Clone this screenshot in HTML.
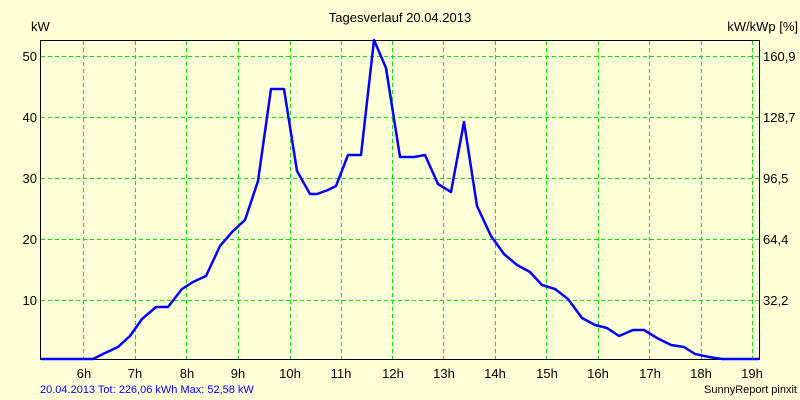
<!DOCTYPE html>
<html><head><style>
body{margin:0;background:#ffffd8;}
svg{display:block;font-family:"Liberation Sans",sans-serif;}
</style></head><body>
<svg width="800" height="400" xmlns="http://www.w3.org/2000/svg">
<rect width="800" height="400" fill="#ffffd8"/>
<g stroke="#00e000" stroke-width="1" stroke-dasharray="4,3">
<line x1="83.5" y1="41" x2="83.5" y2="359"/>
<line x1="135.5" y1="41" x2="135.5" y2="359"/>
<line x1="186.5" y1="41" x2="186.5" y2="359"/>
<line x1="238.5" y1="41" x2="238.5" y2="359"/>
<line x1="290.5" y1="41" x2="290.5" y2="359"/>
<line x1="341.5" y1="41" x2="341.5" y2="359"/>
<line x1="392.5" y1="41" x2="392.5" y2="359"/>
<line x1="443.5" y1="41" x2="443.5" y2="359"/>
<line x1="495.5" y1="41" x2="495.5" y2="359"/>
<line x1="546.5" y1="41" x2="546.5" y2="359"/>
<line x1="598.5" y1="41" x2="598.5" y2="359"/>
<line x1="649.5" y1="41" x2="649.5" y2="359"/>
<line x1="701.5" y1="41" x2="701.5" y2="359"/>
<line x1="752.5" y1="41" x2="752.5" y2="359"/>
<line x1="41" y1="56.5" x2="759" y2="56.5"/>
<line x1="41" y1="117.5" x2="759" y2="117.5"/>
<line x1="41" y1="178.5" x2="759" y2="178.5"/>
<line x1="41" y1="239.5" x2="759" y2="239.5"/>
<line x1="41" y1="300.5" x2="759" y2="300.5"/>
</g>
<rect x="40.5" y="40.5" width="719" height="319" fill="none" stroke="#000" stroke-width="1"/>
<polyline fill="none" stroke="#0000ff" stroke-width="2.5" stroke-linejoin="round" points="41,359 93,359 103,354 118,347 130,336 142,319 156,307 168,307 182,289 193,282 206,276 220,246 233,231 245,220 258,181 271,89 284,89 297,171 310,194 317,194 328,190 336,186 348,155 361,155 374,40 386,68 400,157 414,157 425,155 438,184 451,192 464,122 477,206 491,236 504,254 517,265 530,272 542,285 555,289 568,299 582,318 595,325 607,328 619,336 633,330 644,330 657,338 671,345 684,347 695,354 709,357 722,359 759,359"/>
<g font-size="13" fill="#000">
<text x="400" y="22" text-anchor="middle">Tagesverlauf 20.04.2013</text>
<text x="31" y="31">kW</text>
<text x="798" y="31" text-anchor="end">kW/kWp [%]</text>
<g text-anchor="end">
<text x="37" y="61">50</text><text x="37" y="122">40</text><text x="37" y="183">30</text><text x="37" y="244">20</text><text x="37" y="305">10</text>
</g>
<text x="763" y="61">160,9</text><text x="763" y="122">128,7</text><text x="763" y="183">96,5</text><text x="763" y="244">64,4</text><text x="763" y="305">32,2</text>
<g text-anchor="middle">
<text x="84" y="378">6h</text><text x="135" y="378">7h</text><text x="187" y="378">8h</text><text x="238" y="378">9h</text><text x="290" y="378">10h</text><text x="341" y="378">11h</text><text x="393" y="378">12h</text><text x="444" y="378">13h</text><text x="495" y="378">14h</text><text x="547" y="378">15h</text><text x="598" y="378">16h</text><text x="650" y="378">17h</text><text x="701" y="378">18h</text><text x="752" y="378">19h</text>
</g>
</g>
<text x="40" y="393" font-size="11" fill="#0000ff">20.04.2013 Tot: 226,06 kWh Max: 52,58 kW</text>
<text x="797" y="393" font-size="11" fill="#000" text-anchor="end">SunnyReport pinxit</text>
</svg>
</body></html>
